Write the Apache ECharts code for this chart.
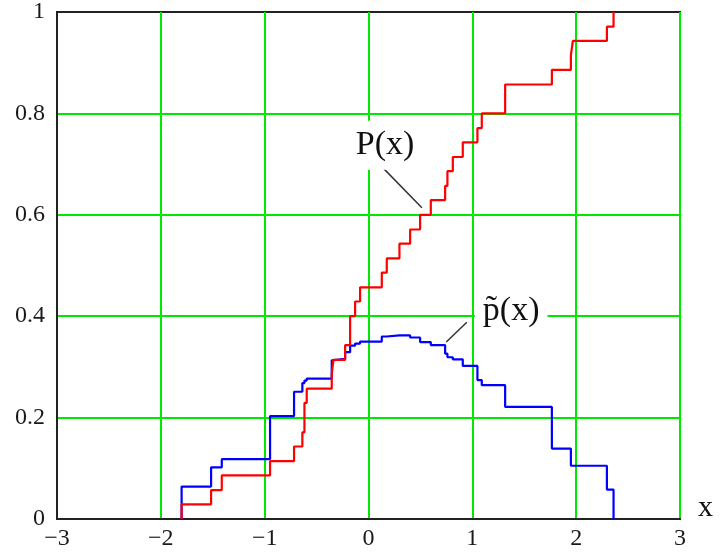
<!DOCTYPE html>
<html>
<head>
<meta charset="utf-8">
<script src="https://cdn.jsdelivr.net/npm/echarts@6/dist/echarts.min.js"></script>
<style>
html, body { margin: 0; padding: 0; background: #fff; }
#chart { width: 720px; height: 555px; }
</style>
</head>
<body>
<div id="chart"></div>
<script>
// jump positions of the sample (shared by both curves)
var jumpX = [-1.80, -1.516, -1.413, -0.948, -0.717, -0.637, -0.617, -0.595, -0.354, -0.338,
             -0.225, -0.177, -0.129, -0.081, 0.128, 0.176, 0.298, 0.401, 0.497, 0.600,
             0.738, 0.760, 0.812, 0.908, 1.049, 1.091, 1.316, 1.766, 1.949, 1.968,
             2.296, 2.360];
// P(x) level after each jump
var cdfLevel = [0.029, 0.057, 0.086, 0.114, 0.143, 0.171, 0.229, 0.257, 0.286, 0.314,
                0.343, 0.4, 0.429, 0.457, 0.486, 0.514, 0.543, 0.571, 0.6, 0.629,
                0.657, 0.686, 0.714, 0.743, 0.771, 0.8, 0.857, 0.886, 0.914, 0.943,
                0.971, 1];
// p~(x) level after each jump
var densLevel = [0.064, 0.102, 0.118, 0.203, 0.251, 0.268, 0.273, 0.277, 0.313, 0.316,
                 0.329, 0.342, 0.346, 0.350, 0.360, 0.362, 0.362, 0.358, 0.349, 0.343,
                 0.326, 0.319, 0.315, 0.302, 0.274, 0.264, 0.221, 0.139, 0.105, 0.105,
                 0.058, 0];

var xTicks = [-3, -2, -1, 0, 1, 2, 3];
var yTicks = [0, 0.2, 0.4, 0.6, 0.8, 1];

var serif = '"Liberation Serif", serif';

function stepData(levels) {
    var d = [[jumpX[0], 0]];
    for (var i = 0; i < jumpX.length; i++) {
        d.push([jumpX[i], levels[i]]);
    }
    return d;
}

var myChart = echarts.init(document.getElementById('chart'));

var option = {
    animation: false,
    grid: {
        left: 57, right: 40, top: 11, bottom: 36,
        show: true,
        borderColor: '#222',
        borderWidth: 2
    },
    xAxis: {
        type: 'value',
        min: xTicks[0],
        max: xTicks[xTicks.length - 1],
        interval: 1,
        name: 'x',
        nameLocation: 'end',
        nameGap: 18,
        nameTextStyle: { fontFamily: serif, fontSize: 30, color: '#111', verticalAlign: 'bottom', padding: [0, 0, -4, 0] },
        axisLine: { show: true, onZero: false, lineStyle: { color: '#222', width: 2 } },
        axisTick: { show: false },
        axisLabel: {
            fontFamily: serif, fontSize: 24, color: '#1a1a1a', margin: 8,
            formatter: function (v) { return String(v).replace('-', '\u2212'); }
        },
        splitLine: { show: true, showMinLine: false, lineStyle: { color: '#00e800', width: 2 } }
    },
    yAxis: {
        type: 'value',
        min: yTicks[0],
        max: yTicks[yTicks.length - 1],
        interval: 0.2,
        axisLine: { show: true, onZero: false, lineStyle: { color: '#222', width: 2 } },
        axisTick: { show: false },
        axisLabel: { fontFamily: serif, fontSize: 24, color: '#1a1a1a', margin: 12 },
        splitLine: { show: true, showMinLine: false, showMaxLine: false, lineStyle: { color: '#00e800', width: 2 } }
    },
    series: [
        {
            name: 'p~(x)',
            type: 'line',
            step: 'end',
            showSymbol: false,
            symbol: 'none',
            z: 3,
            lineStyle: { color: '#0000ff', width: 2.2 },
            data: stepData(densLevel),
            markLine: {
                silent: true,
                symbol: ['none', 'none'],
                label: { show: false },
                lineStyle: { color: '#333', width: 1.5, type: 'solid' },
                data: [[{ coord: [0.749, 0.349] }, { coord: [0.947, 0.388] }]]
            },
            markPoint: {
                silent: true,
                symbol: 'circle',
                symbolSize: 0,
                label: {
                    show: true, position: 'inside',
                    formatter: 'p\u0303(x)',
                    fontFamily: serif, fontSize: 34, color: '#111',
                    backgroundColor: '#fff', padding: [4, 8, 0, 8]
                },
                data: [{ coord: [1.374, 0.41] }]
            }
        },
        {
            name: 'P(x)',
            type: 'line',
            step: 'end',
            showSymbol: false,
            symbol: 'none',
            z: 4,
            lineStyle: { color: '#ff0000', width: 2.2 },
            data: stepData(cdfLevel),
            markLine: {
                silent: true,
                symbol: ['none', 'none'],
                label: { show: false },
                lineStyle: { color: '#333', width: 1.5, type: 'solid' },
                data: [[{ coord: [0.128, 0.695] }, { coord: [0.514, 0.614] }]]
            },
            markPoint: {
                silent: true,
                symbol: 'circle',
                symbolSize: 0,
                label: {
                    show: true, position: 'inside',
                    formatter: 'P(x)',
                    fontFamily: serif, fontSize: 34, color: '#111',
                    backgroundColor: '#fff', padding: [3, 4, 12, 4]
                },
                data: [{ coord: [0.16, 0.737] }]
            }
        }
    ]
};

myChart.setOption(option);
</script>
</body>
</html>
